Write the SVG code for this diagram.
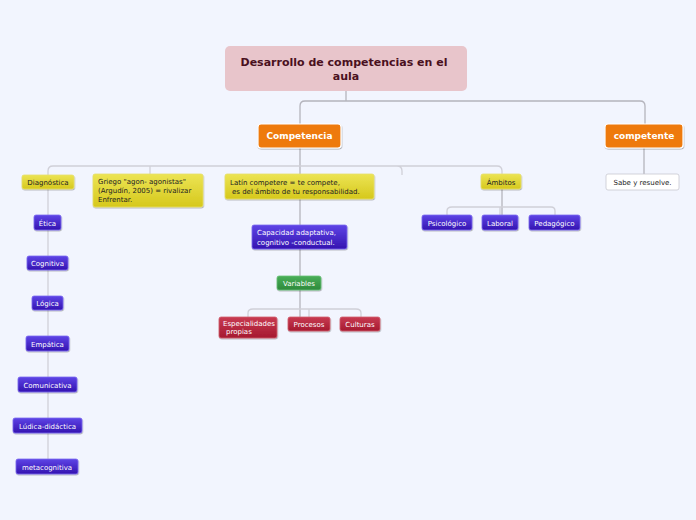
<svg xmlns="http://www.w3.org/2000/svg" width="696" height="520" viewBox="0 0 696 520">
<defs>
<linearGradient id="gP" x1="0" y1="0" x2="0" y2="1"><stop offset="0" stop-color="#5e44e6"/><stop offset="1" stop-color="#3414b0"/></linearGradient>
<linearGradient id="gY" x1="0" y1="0" x2="0" y2="1"><stop offset="0" stop-color="#ece454"/><stop offset="1" stop-color="#d6c81c"/></linearGradient>
<linearGradient id="gR" x1="0" y1="0" x2="0" y2="1"><stop offset="0" stop-color="#c83a52"/><stop offset="1" stop-color="#a51a30"/></linearGradient>
<linearGradient id="gG" x1="0" y1="0" x2="0" y2="1"><stop offset="0" stop-color="#4aae58"/><stop offset="1" stop-color="#2d8a3c"/></linearGradient>
<filter id="sh" x="-10%" y="-10%" width="130%" height="140%"><feDropShadow dx="0.5" dy="1" stdDeviation="0.7" flood-color="#000" flood-opacity="0.3"/></filter>
</defs>
<style>
.c{fill:none;stroke:#b4b4bc;stroke-width:1.3}
.c2{fill:none;stroke:#d0d0d8;stroke-width:1.3}
.p{fill:url(#gP);stroke:#7c6af0;stroke-width:0.8;filter:url(#sh)}
.y{fill:url(#gY);stroke:#e6de6a;stroke-width:0.8;filter:url(#sh)}
.r{fill:url(#gR);stroke:#d06070;stroke-width:0.8;filter:url(#sh)}
.g{fill:url(#gG);stroke:#6ac07a;stroke-width:0.8;filter:url(#sh)}
.o{fill:#ee7a10;stroke:#fff;stroke-width:1.2;filter:url(#sh)}
.w{fill:#fff;stroke:#c8c8d0;stroke-width:0.8}
.t{font-family:"DejaVu Sans",Verdana,sans-serif;font-size:7px}
.tw{fill:#fff}
.tk{fill:#222}
.m{text-anchor:middle}
</style>
<rect width="696" height="520" fill="#f2f5fe"/>
<g id="connectors">
<path class="c" d="M346 91 V101 M305 101 H640 Q645 101 645 106 V124 M305 101 Q300 101 300 106 V124"/>
<path class="c" d="M300 148 V317"/>
<path class="c2" d="M300 166 H53 Q48 166 48 171 V175 M150 166 Q150 166 150 174 M300 166 H497 Q502 166 502 171 V174 M397 166 Q402 166 402 171 V175"/>
<path class="c2" d="M48 189 V459"/>
<path class="c" d="M644 148 V166 M644 166 V174"/>
<path class="c" d="M502 189 V215"/>
<path class="c2" d="M502 207 H452 Q447 207 447 211 V215 M502 207 H551 Q555 207 555 211 V215 M500 207 V215"/>
<path class="c2" d="M300 309 H253 Q248 309 248 313 V317 M300 309 H356 Q361 309 361 313 V317 M309 309 V317"/>
</g>
<g id="title"><rect x="225" y="46" width="242" height="45" rx="5" fill="#e8c5cb"/>
<text x="344" y="66" text-anchor="middle" font-family="DejaVu Sans,Verdana,sans-serif" font-size="11" font-weight="bold" fill="#4a1020">Desarrollo de competencias en el</text>
<text x="346" y="80" text-anchor="middle" font-family="DejaVu Sans,Verdana,sans-serif" font-size="11" font-weight="bold" fill="#4a1020">aula</text></g>
<g id="competencia"><rect class="o" x="258" y="124" width="83" height="24" rx="3"/>
<text x="299.5" y="139" text-anchor="middle" font-family="DejaVu Sans,Verdana,sans-serif" font-size="9" font-weight="bold" fill="#fff">Competencia</text></g>
<g id="competente"><rect class="o" x="605" y="124" width="78" height="24" rx="3"/>
<text x="644" y="139" text-anchor="middle" font-family="DejaVu Sans,Verdana,sans-serif" font-size="9" font-weight="bold" fill="#fff">competente</text></g>
<g id="sabe"><rect class="w" x="606" y="174" width="73" height="16" rx="2"/>
<text class="t tk m" x="642.5" y="185">Sabe y resuelve.</text></g>
<g id="diagnostica"><rect class="y" x="22" y="175" width="52" height="14" rx="2"/>
<text class="t tk m" x="48" y="185">Diagnóstica</text></g>
<g id="griego"><rect class="y" x="93" y="174" width="110" height="33" rx="2"/>
<text class="t tk" x="98" y="184">Griego "agon- agonistas"</text>
<text class="t tk" x="98" y="193">(Argudín, 2005) = rivalizar</text>
<text class="t tk" x="98" y="202">Enfrentar.</text></g>
<g id="latin"><rect class="y" x="225" y="174" width="149" height="25" rx="2"/>
<text class="t tk" x="230" y="185">Latín competere = te compete,</text>
<text class="t tk" x="232" y="194">es del ámbito de tu responsabilidad.</text></g>
<g id="ambitos"><rect class="y" x="481" y="174" width="40" height="15" rx="2"/>
<text class="t tk m" x="501" y="185">Ámbitos</text></g>
<g id="psicologico"><rect class="p" x="422" y="215" width="50" height="15" rx="2"/>
<text class="t tw m" x="447" y="226">Psicológico</text></g>
<g id="laboral"><rect class="p" x="482" y="215" width="36" height="15" rx="2"/>
<text class="t tw m" x="500" y="226">Laboral</text></g>
<g id="pedagogico"><rect class="p" x="529" y="215" width="51" height="15" rx="2"/>
<text class="t tw m" x="554.5" y="226">Pedagógico</text></g>
<g id="capacidad"><rect class="p" x="252" y="225" width="95" height="24" rx="2"/>
<text class="t tw" x="257" y="235">Capacidad adaptativa,</text>
<text class="t tw" x="257" y="245">cognitivo -conductual.</text></g>
<g id="variables"><rect class="g" x="277" y="276" width="44" height="14" rx="2"/>
<text class="t tw m" x="299" y="286">Variables</text></g>
<g id="especialidades"><rect class="r" x="219" y="317" width="58" height="21" rx="2"/>
<text class="t tw" x="223" y="326">Especialidades</text>
<text class="t tw" x="226" y="334">propias</text></g>
<g id="procesos"><rect class="r" x="288" y="317" width="42" height="14" rx="2"/>
<text class="t tw m" x="309" y="327">Procesos</text></g>
<g id="culturas"><rect class="r" x="340" y="317" width="40" height="14" rx="2"/>
<text class="t tw m" x="360" y="327">Culturas</text></g>
<g id="etica"><rect class="p" x="34" y="215" width="27" height="15" rx="2"/>
<text class="t tw m" x="47.5" y="226">Ética</text></g>
<g id="cognitiva"><rect class="p" x="27" y="256" width="41" height="14" rx="2"/>
<text class="t tw m" x="47.5" y="266">Cognitiva</text></g>
<g id="logica"><rect class="p" x="32" y="296" width="31" height="14" rx="2"/>
<text class="t tw m" x="47.5" y="306">Lógica</text></g>
<g id="empatica"><rect class="p" x="26" y="336" width="43" height="15" rx="2"/>
<text class="t tw m" x="47.5" y="347">Empática</text></g>
<g id="comunicativa"><rect class="p" x="18" y="377" width="59" height="15" rx="2"/>
<text class="t tw m" x="47.5" y="388">Comunicativa</text></g>
<g id="ludica"><rect class="p" x="13" y="418" width="69" height="15" rx="2"/>
<text class="t tw m" x="47.5" y="429">Lúdica-didáctica</text></g>
<g id="metacognitiva"><rect class="p" x="16" y="459" width="62" height="15" rx="2"/>
<text class="t tw m" x="47" y="470">metacognitiva</text></g>
</svg>
